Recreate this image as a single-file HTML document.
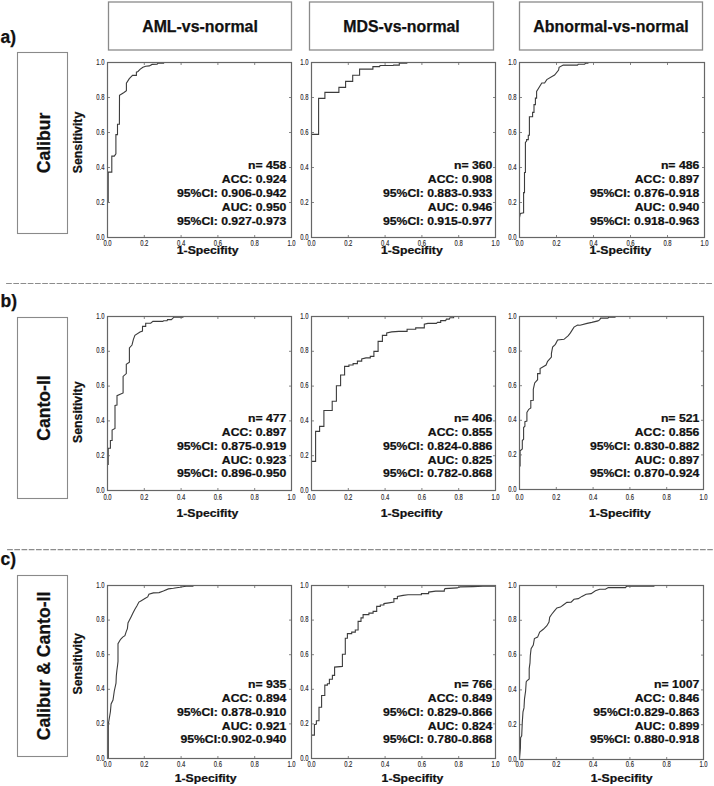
<!DOCTYPE html>
<html><head><meta charset="utf-8"><title>ROC</title><style>
*{margin:0;padding:0}
html,body{width:714px;height:786px;overflow:hidden;background:#fff}
svg{display:block}
text{font-family:"Liberation Sans",sans-serif;fill:#111}
.st,.ax,.hd,.rl,.pl{stroke:#111;stroke-width:0.25px}
.hd{font-size:15.9px;font-weight:bold;text-anchor:middle}
.pl{font-size:17.5px;font-weight:bold}
.rl{font-size:17.6px;font-weight:bold;text-anchor:middle}
.tk{font-size:9px;fill:#1a1a1a;stroke:#333;stroke-width:0.15px}
.st{font-size:11.6px;font-weight:bold;text-anchor:end}
.ax{font-size:12px;font-weight:bold;text-anchor:middle}
</style></head><body>
<svg width="714" height="786" viewBox="0 0 714 786">
<rect width="714" height="786" fill="#fff"/>
<rect x="108.5" y="2" width="183.0" height="48" fill="none" stroke="#8a8a8a" stroke-width="1.3"/>
<text x="200.0" y="31.7" class="hd">AML-vs-normal</text>
<rect x="309.5" y="2" width="184.0" height="48" fill="none" stroke="#8a8a8a" stroke-width="1.3"/>
<text x="401.5" y="31.7" class="hd">MDS-vs-normal</text>
<rect x="519.5" y="2" width="183.0" height="48" fill="none" stroke="#8a8a8a" stroke-width="1.3"/>
<text x="611.0" y="31.7" class="hd">Abnormal-vs-normal</text>
<text x="0.5" y="43.4" class="pl">a)</text>
<text x="0.5" y="306.6" class="pl">b)</text>
<text x="0.5" y="564.8" class="pl">c)</text>
<line x1="6.1" y1="283.5" x2="712.0" y2="283.5" stroke="#8c8c8c" stroke-width="1.1" stroke-dasharray="5.7 1.518"/>
<line x1="7.1" y1="549.6" x2="712.8" y2="549.6" stroke="#8c8c8c" stroke-width="1.1" stroke-dasharray="5.7 1.518"/>
<rect x="17.5" y="52.5" width="50" height="181.0" fill="none" stroke="#8a8a8a" stroke-width="1.1"/>
<text transform="translate(50,143.0) rotate(-90)" x="0" y="0" class="rl">Calibur</text>
<rect x="17.5" y="317.5" width="50" height="181.0" fill="none" stroke="#8a8a8a" stroke-width="1.1"/>
<text transform="translate(50,408.0) rotate(-90)" x="0" y="0" class="rl">Canto-II</text>
<rect x="17.5" y="575.5" width="50" height="181.0" fill="none" stroke="#8a8a8a" stroke-width="1.1"/>
<text transform="translate(50,666.0) rotate(-90)" x="0" y="0" class="rl">Calibur &amp; Canto-II</text>
<path d="M108.2,202.3 L108.2,172.1 L111.8,172.1 L111.8,156.1 L114.3,156.1 L115.9,153.9 L115.9,134.6 L117.5,134.6 L117.5,124.3 L119.4,124.3 L119.5,95.4 L122.0,93.8 L124.0,92.5 L126.4,90.7 L126.4,83.2 L129.3,78.6 L132.5,75.4 L136.4,75.4 L136.4,72.2 L138.0,71.5 L140.0,69.4 L142.9,67.3 L145.7,66.2 L149.3,65.9 L152.1,64.4 L157.1,64.1 L157.9,63.3 L163.6,63.3 L163.6,62.5" fill="none" stroke="#3c3c3c" stroke-width="1.1" stroke-linejoin="miter"/>
<rect x="107.5" y="62.5" width="184.0" height="175.0" fill="none" stroke="#666" stroke-width="1.2"/>
<path d="M144.30,237.5 v-2.5 M144.30,62.5 v2.5 M107.5,202.50 h2.5 M291.5,202.50 h-2.5" stroke="#666" stroke-width="0.8"/>
<path d="M181.10,237.5 v-2.5 M181.10,62.5 v2.5 M107.5,167.50 h2.5 M291.5,167.50 h-2.5" stroke="#666" stroke-width="0.8"/>
<path d="M217.90,237.5 v-2.5 M217.90,62.5 v2.5 M107.5,132.50 h2.5 M291.5,132.50 h-2.5" stroke="#666" stroke-width="0.8"/>
<path d="M254.70,237.5 v-2.5 M254.70,62.5 v2.5 M107.5,97.50 h2.5 M291.5,97.50 h-2.5" stroke="#666" stroke-width="0.8"/>
<text x="107.50" y="245.8" class="tk" text-anchor="middle" textLength="8.2" lengthAdjust="spacingAndGlyphs">0.0</text>
<text x="104.50" y="239.50" class="tk" text-anchor="end" textLength="8.2" lengthAdjust="spacingAndGlyphs">0.0</text>
<text x="144.30" y="245.8" class="tk" text-anchor="middle" textLength="8.2" lengthAdjust="spacingAndGlyphs">0.2</text>
<text x="104.50" y="204.50" class="tk" text-anchor="end" textLength="8.2" lengthAdjust="spacingAndGlyphs">0.2</text>
<text x="181.10" y="245.8" class="tk" text-anchor="middle" textLength="8.2" lengthAdjust="spacingAndGlyphs">0.4</text>
<text x="104.50" y="169.50" class="tk" text-anchor="end" textLength="8.2" lengthAdjust="spacingAndGlyphs">0.4</text>
<text x="217.90" y="245.8" class="tk" text-anchor="middle" textLength="8.2" lengthAdjust="spacingAndGlyphs">0.6</text>
<text x="104.50" y="134.50" class="tk" text-anchor="end" textLength="8.2" lengthAdjust="spacingAndGlyphs">0.6</text>
<text x="254.70" y="245.8" class="tk" text-anchor="middle" textLength="8.2" lengthAdjust="spacingAndGlyphs">0.8</text>
<text x="104.50" y="99.50" class="tk" text-anchor="end" textLength="8.2" lengthAdjust="spacingAndGlyphs">0.8</text>
<text x="291.50" y="245.8" class="tk" text-anchor="middle" textLength="8.2" lengthAdjust="spacingAndGlyphs">1.0</text>
<text x="104.50" y="64.50" class="tk" text-anchor="end" textLength="8.2" lengthAdjust="spacingAndGlyphs">1.0</text>
<text transform="translate(286.40,168.90) scale(1.055,1)" class="st">n= 458</text>
<text transform="translate(286.40,183.00) scale(1.055,1)" class="st">ACC: 0.924</text>
<text transform="translate(286.40,197.10) scale(1.055,1)" class="st">95%CI: 0.906-0.942</text>
<text transform="translate(286.40,211.20) scale(1.055,1)" class="st">AUC: 0.950</text>
<text transform="translate(286.40,225.00) scale(1.055,1)" class="st">95%CI: 0.927-0.973</text>
<text transform="translate(207.70,254.0) scale(1.055,1)" class="ax" style="font-size:11.6px">1-Specifity</text>
<path d="M311.5,134.4 L318.6,134.4 L318.6,98.4 L324.9,98.4 L324.9,92.4 L338.9,92.4 L338.9,87.4 L345.6,87.4 L345.6,81.4 L352.7,81.4 L352.7,75.3 L359.6,75.3 L359.6,69.1 L372.9,69.1 L372.9,66.6 L379.6,66.6 L380.0,65.5 L393.2,65.5 L393.6,65.1 L399.3,65.1 L399.3,63.3 L406.8,63.3 L406.8,62.5" fill="none" stroke="#3c3c3c" stroke-width="1.1" stroke-linejoin="miter"/>
<rect x="311.5" y="62.5" width="184.0" height="175.0" fill="none" stroke="#666" stroke-width="1.2"/>
<path d="M348.30,237.5 v-2.5 M348.30,62.5 v2.5 M311.5,202.50 h2.5 M495.5,202.50 h-2.5" stroke="#666" stroke-width="0.8"/>
<path d="M385.10,237.5 v-2.5 M385.10,62.5 v2.5 M311.5,167.50 h2.5 M495.5,167.50 h-2.5" stroke="#666" stroke-width="0.8"/>
<path d="M421.90,237.5 v-2.5 M421.90,62.5 v2.5 M311.5,132.50 h2.5 M495.5,132.50 h-2.5" stroke="#666" stroke-width="0.8"/>
<path d="M458.70,237.5 v-2.5 M458.70,62.5 v2.5 M311.5,97.50 h2.5 M495.5,97.50 h-2.5" stroke="#666" stroke-width="0.8"/>
<text x="311.50" y="245.8" class="tk" text-anchor="middle" textLength="8.2" lengthAdjust="spacingAndGlyphs">0.0</text>
<text x="308.50" y="239.50" class="tk" text-anchor="end" textLength="8.2" lengthAdjust="spacingAndGlyphs">0.0</text>
<text x="348.30" y="245.8" class="tk" text-anchor="middle" textLength="8.2" lengthAdjust="spacingAndGlyphs">0.2</text>
<text x="308.50" y="204.50" class="tk" text-anchor="end" textLength="8.2" lengthAdjust="spacingAndGlyphs">0.2</text>
<text x="385.10" y="245.8" class="tk" text-anchor="middle" textLength="8.2" lengthAdjust="spacingAndGlyphs">0.4</text>
<text x="308.50" y="169.50" class="tk" text-anchor="end" textLength="8.2" lengthAdjust="spacingAndGlyphs">0.4</text>
<text x="421.90" y="245.8" class="tk" text-anchor="middle" textLength="8.2" lengthAdjust="spacingAndGlyphs">0.6</text>
<text x="308.50" y="134.50" class="tk" text-anchor="end" textLength="8.2" lengthAdjust="spacingAndGlyphs">0.6</text>
<text x="458.70" y="245.8" class="tk" text-anchor="middle" textLength="8.2" lengthAdjust="spacingAndGlyphs">0.8</text>
<text x="308.50" y="99.50" class="tk" text-anchor="end" textLength="8.2" lengthAdjust="spacingAndGlyphs">0.8</text>
<text x="495.50" y="245.8" class="tk" text-anchor="middle" textLength="8.2" lengthAdjust="spacingAndGlyphs">1.0</text>
<text x="308.50" y="64.50" class="tk" text-anchor="end" textLength="8.2" lengthAdjust="spacingAndGlyphs">1.0</text>
<text transform="translate(492.40,168.90) scale(1.055,1)" class="st">n= 360</text>
<text transform="translate(492.40,183.00) scale(1.055,1)" class="st">ACC: 0.908</text>
<text transform="translate(492.40,197.10) scale(1.055,1)" class="st">95%CI: 0.883-0.933</text>
<text transform="translate(492.40,211.20) scale(1.055,1)" class="st">AUC: 0.946</text>
<text transform="translate(492.40,225.00) scale(1.055,1)" class="st">95%CI: 0.915-0.977</text>
<text transform="translate(411.80,254.0) scale(1.055,1)" class="ax" style="font-size:11.6px">1-Specifity</text>
<path d="M519.5,217.3 L520.4,213.4 L523.6,212.7 L523.6,192.6 L524.5,192.6 L524.5,172.5 L525.4,172.5 L525.4,142.4 L526.6,141.0 L526.6,139.6 L528.3,139.6 L528.3,135.3 L529.4,135.3 L529.4,116.7 L532.6,116.7 L532.6,112.4 L534.0,112.4 L534.0,104.6 L535.4,104.6 L535.4,98.1 L536.6,98.1 L536.6,91.4 L541.8,83.0 L544.6,83.0 L546.8,79.6 L552.4,76.2 L554.6,75.1 L558.6,70.1 L559.1,67.3 L563.2,65.1 L577.5,65.1 L578.2,64.3 L584.6,64.3 L585.4,63.3 L587.9,63.3 L587.9,62.5" fill="none" stroke="#3c3c3c" stroke-width="1.1" stroke-linejoin="miter"/>
<rect x="519.5" y="62.5" width="185.0" height="175.0" fill="none" stroke="#666" stroke-width="1.2"/>
<path d="M556.50,237.5 v-2.5 M556.50,62.5 v2.5 M519.5,202.50 h2.5 M704.5,202.50 h-2.5" stroke="#666" stroke-width="0.8"/>
<path d="M593.50,237.5 v-2.5 M593.50,62.5 v2.5 M519.5,167.50 h2.5 M704.5,167.50 h-2.5" stroke="#666" stroke-width="0.8"/>
<path d="M630.50,237.5 v-2.5 M630.50,62.5 v2.5 M519.5,132.50 h2.5 M704.5,132.50 h-2.5" stroke="#666" stroke-width="0.8"/>
<path d="M667.50,237.5 v-2.5 M667.50,62.5 v2.5 M519.5,97.50 h2.5 M704.5,97.50 h-2.5" stroke="#666" stroke-width="0.8"/>
<text x="519.50" y="245.8" class="tk" text-anchor="middle" textLength="8.2" lengthAdjust="spacingAndGlyphs">0.0</text>
<text x="516.50" y="239.50" class="tk" text-anchor="end" textLength="8.2" lengthAdjust="spacingAndGlyphs">0.0</text>
<text x="556.50" y="245.8" class="tk" text-anchor="middle" textLength="8.2" lengthAdjust="spacingAndGlyphs">0.2</text>
<text x="516.50" y="204.50" class="tk" text-anchor="end" textLength="8.2" lengthAdjust="spacingAndGlyphs">0.2</text>
<text x="593.50" y="245.8" class="tk" text-anchor="middle" textLength="8.2" lengthAdjust="spacingAndGlyphs">0.4</text>
<text x="516.50" y="169.50" class="tk" text-anchor="end" textLength="8.2" lengthAdjust="spacingAndGlyphs">0.4</text>
<text x="630.50" y="245.8" class="tk" text-anchor="middle" textLength="8.2" lengthAdjust="spacingAndGlyphs">0.6</text>
<text x="516.50" y="134.50" class="tk" text-anchor="end" textLength="8.2" lengthAdjust="spacingAndGlyphs">0.6</text>
<text x="667.50" y="245.8" class="tk" text-anchor="middle" textLength="8.2" lengthAdjust="spacingAndGlyphs">0.8</text>
<text x="516.50" y="99.50" class="tk" text-anchor="end" textLength="8.2" lengthAdjust="spacingAndGlyphs">0.8</text>
<text x="704.50" y="245.8" class="tk" text-anchor="middle" textLength="8.2" lengthAdjust="spacingAndGlyphs">1.0</text>
<text x="516.50" y="64.50" class="tk" text-anchor="end" textLength="8.2" lengthAdjust="spacingAndGlyphs">1.0</text>
<text transform="translate(699.30,168.90) scale(1.055,1)" class="st">n= 486</text>
<text transform="translate(699.30,183.00) scale(1.055,1)" class="st">ACC: 0.897</text>
<text transform="translate(699.30,197.10) scale(1.055,1)" class="st">95%CI: 0.876-0.918</text>
<text transform="translate(699.30,211.20) scale(1.055,1)" class="st">AUC: 0.940</text>
<text transform="translate(699.30,225.00) scale(1.055,1)" class="st">95%CI: 0.918-0.963</text>
<text transform="translate(620.40,254.0) scale(1.055,1)" class="ax" style="font-size:11.6px">1-Specifity</text>
<text transform="translate(82.4,142.5) rotate(-90)" class="ax" style="font-size:12.3px">Sensitivity</text>
<path d="M108.2,465.1 L108.2,448.2 L110.4,448.2 L110.4,440.5 L112.1,440.5 L112.1,430.1 L115.0,428.5 L115.0,405.4 L117.0,405.0 L117.0,395.7 L123.1,392.9 L123.1,376.4 L126.3,373.6 L126.3,364.3 L129.4,362.1 L129.4,347.9 L132.0,345.0 L133.4,339.3 L134.9,335.4 L140.0,332.1 L142.5,331.1 L142.5,326.4 L145.7,326.4 L145.7,323.2 L150.7,323.2 L152.9,321.4 L162.9,321.4 L163.6,320.7 L167.1,320.7 L167.5,319.6 L171.4,319.6 L173.2,317.9 L174.0,317.3 L182.9,317.3 L182.9,316.5" fill="none" stroke="#3c3c3c" stroke-width="1.1" stroke-linejoin="miter"/>
<rect x="107.5" y="316.5" width="184.0" height="174.0" fill="none" stroke="#666" stroke-width="1.2"/>
<path d="M144.30,490.5 v-2.5 M144.30,316.5 v2.5 M107.5,455.70 h2.5 M291.5,455.70 h-2.5" stroke="#666" stroke-width="0.8"/>
<path d="M181.10,490.5 v-2.5 M181.10,316.5 v2.5 M107.5,420.90 h2.5 M291.5,420.90 h-2.5" stroke="#666" stroke-width="0.8"/>
<path d="M217.90,490.5 v-2.5 M217.90,316.5 v2.5 M107.5,386.10 h2.5 M291.5,386.10 h-2.5" stroke="#666" stroke-width="0.8"/>
<path d="M254.70,490.5 v-2.5 M254.70,316.5 v2.5 M107.5,351.30 h2.5 M291.5,351.30 h-2.5" stroke="#666" stroke-width="0.8"/>
<text x="107.50" y="499.9" class="tk" text-anchor="middle" textLength="8.2" lengthAdjust="spacingAndGlyphs">0.0</text>
<text x="104.50" y="492.50" class="tk" text-anchor="end" textLength="8.2" lengthAdjust="spacingAndGlyphs">0.0</text>
<text x="144.30" y="499.9" class="tk" text-anchor="middle" textLength="8.2" lengthAdjust="spacingAndGlyphs">0.2</text>
<text x="104.50" y="457.70" class="tk" text-anchor="end" textLength="8.2" lengthAdjust="spacingAndGlyphs">0.2</text>
<text x="181.10" y="499.9" class="tk" text-anchor="middle" textLength="8.2" lengthAdjust="spacingAndGlyphs">0.4</text>
<text x="104.50" y="422.90" class="tk" text-anchor="end" textLength="8.2" lengthAdjust="spacingAndGlyphs">0.4</text>
<text x="217.90" y="499.9" class="tk" text-anchor="middle" textLength="8.2" lengthAdjust="spacingAndGlyphs">0.6</text>
<text x="104.50" y="388.10" class="tk" text-anchor="end" textLength="8.2" lengthAdjust="spacingAndGlyphs">0.6</text>
<text x="254.70" y="499.9" class="tk" text-anchor="middle" textLength="8.2" lengthAdjust="spacingAndGlyphs">0.8</text>
<text x="104.50" y="353.30" class="tk" text-anchor="end" textLength="8.2" lengthAdjust="spacingAndGlyphs">0.8</text>
<text x="291.50" y="499.9" class="tk" text-anchor="middle" textLength="8.2" lengthAdjust="spacingAndGlyphs">1.0</text>
<text x="104.50" y="318.50" class="tk" text-anchor="end" textLength="8.2" lengthAdjust="spacingAndGlyphs">1.0</text>
<text transform="translate(286.40,421.80) scale(1.055,1)" class="st">n= 477</text>
<text transform="translate(286.40,436.00) scale(1.055,1)" class="st">ACC: 0.897</text>
<text transform="translate(286.40,450.00) scale(1.055,1)" class="st">95%CI: 0.875-0.919</text>
<text transform="translate(286.40,463.70) scale(1.055,1)" class="st">AUC: 0.923</text>
<text transform="translate(286.40,477.40) scale(1.055,1)" class="st">95%CI: 0.896-0.950</text>
<text transform="translate(207.40,517.0) scale(1.055,1)" class="ax" style="font-size:11.6px">1-Specifity</text>
<path d="M311.5,461.4 L315.6,461.4 L315.6,431.4 L319.6,431.4 L319.6,426.4 L323.9,426.4 L323.9,410.5 L332.2,410.5 L332.2,401.2 L336.4,401.2 L336.4,385.7 L340.6,385.7 L340.6,375.0 L344.6,375.0 L344.6,366.4 L348.9,366.4 L348.9,365.0 L353.1,365.0 L353.1,363.6 L357.4,363.6 L357.4,361.1 L361.7,361.1 L361.7,358.9 L366.0,357.9 L370.3,357.9 L370.3,356.4 L373.9,356.4 L373.9,351.4 L378.1,351.4 L378.1,341.4 L382.4,341.4 L382.4,335.4 L386.7,335.4 L386.7,332.9 L391.7,331.9 L398.9,331.4 L407.1,331.4 L407.1,329.3 L415.7,329.3 L415.7,327.9 L424.3,327.9 L424.3,324.3 L427.9,323.4 L436.4,323.4 L437.5,322.4 L440.7,322.4 L440.7,320.6 L445.7,320.6 L446.4,319.1 L449.3,319.1 L450.0,317.7 L453.6,317.7 L453.6,316.5" fill="none" stroke="#3c3c3c" stroke-width="1.1" stroke-linejoin="miter"/>
<rect x="311.5" y="316.5" width="184.0" height="174.0" fill="none" stroke="#666" stroke-width="1.2"/>
<path d="M348.30,490.5 v-2.5 M348.30,316.5 v2.5 M311.5,455.70 h2.5 M495.5,455.70 h-2.5" stroke="#666" stroke-width="0.8"/>
<path d="M385.10,490.5 v-2.5 M385.10,316.5 v2.5 M311.5,420.90 h2.5 M495.5,420.90 h-2.5" stroke="#666" stroke-width="0.8"/>
<path d="M421.90,490.5 v-2.5 M421.90,316.5 v2.5 M311.5,386.10 h2.5 M495.5,386.10 h-2.5" stroke="#666" stroke-width="0.8"/>
<path d="M458.70,490.5 v-2.5 M458.70,316.5 v2.5 M311.5,351.30 h2.5 M495.5,351.30 h-2.5" stroke="#666" stroke-width="0.8"/>
<text x="311.50" y="499.9" class="tk" text-anchor="middle" textLength="8.2" lengthAdjust="spacingAndGlyphs">0.0</text>
<text x="308.50" y="492.50" class="tk" text-anchor="end" textLength="8.2" lengthAdjust="spacingAndGlyphs">0.0</text>
<text x="348.30" y="499.9" class="tk" text-anchor="middle" textLength="8.2" lengthAdjust="spacingAndGlyphs">0.2</text>
<text x="308.50" y="457.70" class="tk" text-anchor="end" textLength="8.2" lengthAdjust="spacingAndGlyphs">0.2</text>
<text x="385.10" y="499.9" class="tk" text-anchor="middle" textLength="8.2" lengthAdjust="spacingAndGlyphs">0.4</text>
<text x="308.50" y="422.90" class="tk" text-anchor="end" textLength="8.2" lengthAdjust="spacingAndGlyphs">0.4</text>
<text x="421.90" y="499.9" class="tk" text-anchor="middle" textLength="8.2" lengthAdjust="spacingAndGlyphs">0.6</text>
<text x="308.50" y="388.10" class="tk" text-anchor="end" textLength="8.2" lengthAdjust="spacingAndGlyphs">0.6</text>
<text x="458.70" y="499.9" class="tk" text-anchor="middle" textLength="8.2" lengthAdjust="spacingAndGlyphs">0.8</text>
<text x="308.50" y="353.30" class="tk" text-anchor="end" textLength="8.2" lengthAdjust="spacingAndGlyphs">0.8</text>
<text x="495.50" y="499.9" class="tk" text-anchor="middle" textLength="8.2" lengthAdjust="spacingAndGlyphs">1.0</text>
<text x="308.50" y="318.50" class="tk" text-anchor="end" textLength="8.2" lengthAdjust="spacingAndGlyphs">1.0</text>
<text transform="translate(492.40,421.80) scale(1.055,1)" class="st">n= 406</text>
<text transform="translate(492.40,436.00) scale(1.055,1)" class="st">ACC: 0.855</text>
<text transform="translate(492.40,450.00) scale(1.055,1)" class="st">95%CI: 0.824-0.886</text>
<text transform="translate(492.40,463.70) scale(1.055,1)" class="st">AUC: 0.825</text>
<text transform="translate(492.40,477.40) scale(1.055,1)" class="st">95%CI: 0.782-0.868</text>
<text transform="translate(411.60,517.0) scale(1.055,1)" class="ax" style="font-size:11.6px">1-Specifity</text>
<path d="M520.1,466.4 L520.1,450.8 L522.3,448.9 L522.3,440.5 L523.6,439.2 L523.6,427.5 L524.9,426.2 L524.9,421.6 L526.9,421.0 L526.9,412.5 L528.8,409.3 L530.8,408.0 L530.8,400.4 L533.3,400.2 L533.3,389.3 L534.7,382.9 L537.6,379.7 L537.6,373.6 L540.1,373.6 L540.1,368.6 L546.1,365.0 L547.6,361.4 L551.4,357.1 L551.4,353.6 L552.6,347.1 L555.4,344.3 L557.6,340.0 L564.0,339.3 L568.3,335.7 L570.4,332.9 L574.0,327.1 L577.6,325.0 L580.0,325.2 L587.1,323.4 L591.8,322.4 L597.9,320.9 L599.6,319.9 L600.7,318.1 L607.9,318.1 L608.6,317.3 L615.0,317.3 L615.0,316.5" fill="none" stroke="#3c3c3c" stroke-width="1.1" stroke-linejoin="miter"/>
<rect x="519.5" y="316.5" width="184.0" height="173.0" fill="none" stroke="#666" stroke-width="1.2"/>
<path d="M556.30,489.5 v-2.5 M556.30,316.5 v2.5 M519.5,454.90 h2.5 M703.5,454.90 h-2.5" stroke="#666" stroke-width="0.8"/>
<path d="M593.10,489.5 v-2.5 M593.10,316.5 v2.5 M519.5,420.30 h2.5 M703.5,420.30 h-2.5" stroke="#666" stroke-width="0.8"/>
<path d="M629.90,489.5 v-2.5 M629.90,316.5 v2.5 M519.5,385.70 h2.5 M703.5,385.70 h-2.5" stroke="#666" stroke-width="0.8"/>
<path d="M666.70,489.5 v-2.5 M666.70,316.5 v2.5 M519.5,351.10 h2.5 M703.5,351.10 h-2.5" stroke="#666" stroke-width="0.8"/>
<text x="519.50" y="499.9" class="tk" text-anchor="middle" textLength="8.2" lengthAdjust="spacingAndGlyphs">0.0</text>
<text x="516.50" y="491.50" class="tk" text-anchor="end" textLength="8.2" lengthAdjust="spacingAndGlyphs">0.0</text>
<text x="556.30" y="499.9" class="tk" text-anchor="middle" textLength="8.2" lengthAdjust="spacingAndGlyphs">0.2</text>
<text x="516.50" y="456.90" class="tk" text-anchor="end" textLength="8.2" lengthAdjust="spacingAndGlyphs">0.2</text>
<text x="593.10" y="499.9" class="tk" text-anchor="middle" textLength="8.2" lengthAdjust="spacingAndGlyphs">0.4</text>
<text x="516.50" y="422.30" class="tk" text-anchor="end" textLength="8.2" lengthAdjust="spacingAndGlyphs">0.4</text>
<text x="629.90" y="499.9" class="tk" text-anchor="middle" textLength="8.2" lengthAdjust="spacingAndGlyphs">0.6</text>
<text x="516.50" y="387.70" class="tk" text-anchor="end" textLength="8.2" lengthAdjust="spacingAndGlyphs">0.6</text>
<text x="666.70" y="499.9" class="tk" text-anchor="middle" textLength="8.2" lengthAdjust="spacingAndGlyphs">0.8</text>
<text x="516.50" y="353.10" class="tk" text-anchor="end" textLength="8.2" lengthAdjust="spacingAndGlyphs">0.8</text>
<text x="703.50" y="499.9" class="tk" text-anchor="middle" textLength="8.2" lengthAdjust="spacingAndGlyphs">1.0</text>
<text x="516.50" y="318.50" class="tk" text-anchor="end" textLength="8.2" lengthAdjust="spacingAndGlyphs">1.0</text>
<text transform="translate(699.30,421.80) scale(1.055,1)" class="st">n= 521</text>
<text transform="translate(699.30,436.00) scale(1.055,1)" class="st">ACC: 0.856</text>
<text transform="translate(699.30,450.00) scale(1.055,1)" class="st">95%CI: 0.830-0.882</text>
<text transform="translate(699.30,463.70) scale(1.055,1)" class="st">AUC: 0.897</text>
<text transform="translate(699.30,477.40) scale(1.055,1)" class="st">95%CI: 0.870-0.924</text>
<text transform="translate(619.80,517.0) scale(1.055,1)" class="ax" style="font-size:11.6px">1-Specifity</text>
<text transform="translate(82.4,412.2) rotate(-90)" class="ax" style="font-size:12.3px">Sensitivity</text>
<path d="M108.3,758.5 L108.3,724.1 L109.1,719.5 L110.4,711.8 L111.1,704.0 L113.0,700.1 L114.3,691.0 L116.0,683.2 L116.3,676.0 L116.9,670.2 L117.6,665.0 L118.0,661.4 L118.0,643.6 L120.6,639.3 L122.7,637.1 L124.9,635.7 L126.3,631.4 L127.4,628.6 L128.0,622.9 L129.1,620.7 L131.3,616.4 L132.7,613.6 L134.9,609.3 L137.0,605.7 L138.9,602.1 L141.3,600.7 L144.9,598.6 L147.7,596.9 L148.9,594.3 L153.4,592.9 L159.1,592.6 L163.4,591.1 L168.4,588.9 L173.4,588.3 L179.9,587.3 L184.3,586.5 L186.4,586.3 L192.9,586.3 L192.9,585.5" fill="none" stroke="#3c3c3c" stroke-width="1.1" stroke-linejoin="miter"/>
<rect x="107.5" y="585.5" width="184.0" height="173.0" fill="none" stroke="#666" stroke-width="1.2"/>
<path d="M144.30,758.5 v-2.5 M144.30,585.5 v2.5 M107.5,723.90 h2.5 M291.5,723.90 h-2.5" stroke="#666" stroke-width="0.8"/>
<path d="M181.10,758.5 v-2.5 M181.10,585.5 v2.5 M107.5,689.30 h2.5 M291.5,689.30 h-2.5" stroke="#666" stroke-width="0.8"/>
<path d="M217.90,758.5 v-2.5 M217.90,585.5 v2.5 M107.5,654.70 h2.5 M291.5,654.70 h-2.5" stroke="#666" stroke-width="0.8"/>
<path d="M254.70,758.5 v-2.5 M254.70,585.5 v2.5 M107.5,620.10 h2.5 M291.5,620.10 h-2.5" stroke="#666" stroke-width="0.8"/>
<text x="107.50" y="767.4" class="tk" text-anchor="middle" textLength="8.2" lengthAdjust="spacingAndGlyphs">0.0</text>
<text x="104.50" y="760.50" class="tk" text-anchor="end" textLength="8.2" lengthAdjust="spacingAndGlyphs">0.0</text>
<text x="144.30" y="767.4" class="tk" text-anchor="middle" textLength="8.2" lengthAdjust="spacingAndGlyphs">0.2</text>
<text x="104.50" y="725.90" class="tk" text-anchor="end" textLength="8.2" lengthAdjust="spacingAndGlyphs">0.2</text>
<text x="181.10" y="767.4" class="tk" text-anchor="middle" textLength="8.2" lengthAdjust="spacingAndGlyphs">0.4</text>
<text x="104.50" y="691.30" class="tk" text-anchor="end" textLength="8.2" lengthAdjust="spacingAndGlyphs">0.4</text>
<text x="217.90" y="767.4" class="tk" text-anchor="middle" textLength="8.2" lengthAdjust="spacingAndGlyphs">0.6</text>
<text x="104.50" y="656.70" class="tk" text-anchor="end" textLength="8.2" lengthAdjust="spacingAndGlyphs">0.6</text>
<text x="254.70" y="767.4" class="tk" text-anchor="middle" textLength="8.2" lengthAdjust="spacingAndGlyphs">0.8</text>
<text x="104.50" y="622.10" class="tk" text-anchor="end" textLength="8.2" lengthAdjust="spacingAndGlyphs">0.8</text>
<text x="291.50" y="767.4" class="tk" text-anchor="middle" textLength="8.2" lengthAdjust="spacingAndGlyphs">1.0</text>
<text x="104.50" y="587.50" class="tk" text-anchor="end" textLength="8.2" lengthAdjust="spacingAndGlyphs">1.0</text>
<text transform="translate(286.40,687.60) scale(1.055,1)" class="st">n= 935</text>
<text transform="translate(286.40,701.80) scale(1.055,1)" class="st">ACC: 0.894</text>
<text transform="translate(286.40,715.80) scale(1.055,1)" class="st">95%CI: 0.878-0.910</text>
<text transform="translate(286.40,729.50) scale(1.055,1)" class="st">AUC: 0.921</text>
<text transform="translate(286.40,743.30) scale(1.055,1)" class="st">95%CI:0.902-0.940</text>
<text transform="translate(205.60,782.0) scale(1.055,1)" class="ax" style="font-size:11.6px">1-Specifity</text>
<path d="M311.5,735.1 L314.4,735.1 L314.4,724.7 L316.4,724.1 L316.4,720.8 L319.0,720.8 L319.0,707.2 L321.6,707.2 L321.6,695.5 L324.8,695.5 L324.8,685.1 L327.4,685.1 L327.4,683.8 L329.4,683.8 L329.4,679.3 L332.4,679.3 L332.4,675.4 L334.6,675.4 L334.6,667.1 L342.4,666.4 L342.4,654.3 L345.3,654.3 L345.3,638.3 L347.4,638.3 L347.4,633.6 L351.7,633.6 L351.7,632.1 L355.3,632.1 L355.3,630.0 L358.1,630.0 L358.1,627.1 L358.1,621.4 L361.0,621.4 L361.0,617.9 L363.1,617.9 L363.1,614.6 L368.9,614.6 L368.9,613.1 L373.1,613.1 L373.1,611.4 L376.7,611.4 L376.7,606.4 L380.3,606.4 L380.3,605.0 L383.9,605.0 L383.9,603.6 L388.9,602.9 L393.9,602.1 L393.9,598.6 L397.4,598.6 L397.4,596.4 L403.1,595.4 L408.0,594.7 L414.3,594.7 L421.4,594.7 L421.4,593.6 L428.6,593.6 L428.6,592.1 L435.7,591.1 L444.3,591.1 L444.3,590.0 L445.0,588.6 L457.1,587.9 L460.0,586.9 L472.9,586.6 L482.9,586.3 L495.5,586.3" fill="none" stroke="#3c3c3c" stroke-width="1.1" stroke-linejoin="miter"/>
<rect x="311.5" y="585.5" width="184.0" height="173.0" fill="none" stroke="#666" stroke-width="1.2"/>
<path d="M348.30,758.5 v-2.5 M348.30,585.5 v2.5 M311.5,723.90 h2.5 M495.5,723.90 h-2.5" stroke="#666" stroke-width="0.8"/>
<path d="M385.10,758.5 v-2.5 M385.10,585.5 v2.5 M311.5,689.30 h2.5 M495.5,689.30 h-2.5" stroke="#666" stroke-width="0.8"/>
<path d="M421.90,758.5 v-2.5 M421.90,585.5 v2.5 M311.5,654.70 h2.5 M495.5,654.70 h-2.5" stroke="#666" stroke-width="0.8"/>
<path d="M458.70,758.5 v-2.5 M458.70,585.5 v2.5 M311.5,620.10 h2.5 M495.5,620.10 h-2.5" stroke="#666" stroke-width="0.8"/>
<text x="311.50" y="767.4" class="tk" text-anchor="middle" textLength="8.2" lengthAdjust="spacingAndGlyphs">0.0</text>
<text x="308.50" y="760.50" class="tk" text-anchor="end" textLength="8.2" lengthAdjust="spacingAndGlyphs">0.0</text>
<text x="348.30" y="767.4" class="tk" text-anchor="middle" textLength="8.2" lengthAdjust="spacingAndGlyphs">0.2</text>
<text x="308.50" y="725.90" class="tk" text-anchor="end" textLength="8.2" lengthAdjust="spacingAndGlyphs">0.2</text>
<text x="385.10" y="767.4" class="tk" text-anchor="middle" textLength="8.2" lengthAdjust="spacingAndGlyphs">0.4</text>
<text x="308.50" y="691.30" class="tk" text-anchor="end" textLength="8.2" lengthAdjust="spacingAndGlyphs">0.4</text>
<text x="421.90" y="767.4" class="tk" text-anchor="middle" textLength="8.2" lengthAdjust="spacingAndGlyphs">0.6</text>
<text x="308.50" y="656.70" class="tk" text-anchor="end" textLength="8.2" lengthAdjust="spacingAndGlyphs">0.6</text>
<text x="458.70" y="767.4" class="tk" text-anchor="middle" textLength="8.2" lengthAdjust="spacingAndGlyphs">0.8</text>
<text x="308.50" y="622.10" class="tk" text-anchor="end" textLength="8.2" lengthAdjust="spacingAndGlyphs">0.8</text>
<text x="495.50" y="767.4" class="tk" text-anchor="middle" textLength="8.2" lengthAdjust="spacingAndGlyphs">1.0</text>
<text x="308.50" y="587.50" class="tk" text-anchor="end" textLength="8.2" lengthAdjust="spacingAndGlyphs">1.0</text>
<text transform="translate(492.40,687.60) scale(1.055,1)" class="st">n= 766</text>
<text transform="translate(492.40,701.80) scale(1.055,1)" class="st">ACC: 0.849</text>
<text transform="translate(492.40,715.80) scale(1.055,1)" class="st">95%CI: 0.829-0.866</text>
<text transform="translate(492.40,729.50) scale(1.055,1)" class="st">AUC: 0.824</text>
<text transform="translate(492.40,743.30) scale(1.055,1)" class="st">95%CI: 0.780-0.868</text>
<text transform="translate(412.50,782.0) scale(1.055,1)" class="ax" style="font-size:11.6px">1-Specifity</text>
<path d="M519.5,758.5 L519.7,755.9 L520.4,748.1 L520.6,737.7 L521.7,735.8 L522.3,722.1 L523.0,711.8 L524.0,707.9 L524.5,698.8 L525.6,691.0 L526.2,681.9 L526.9,680.8 L529.2,679.0 L529.2,668.6 L530.0,662.9 L530.3,655.7 L531.1,648.6 L533.3,645.0 L534.4,638.6 L537.6,637.1 L539.7,632.1 L543.3,629.3 L546.9,625.7 L549.0,622.1 L549.7,617.1 L551.9,614.0 L554.0,611.4 L556.9,607.9 L560.4,607.1 L563.3,605.0 L566.9,602.4 L571.1,602.1 L574.0,599.3 L578.3,598.6 L581.9,596.4 L586.1,594.3 L591.1,593.6 L595.4,590.7 L599.7,589.3 L605.4,589.3 L608.3,587.6 L625.5,587.6 L626.5,586.3 L653.9,586.3 L653.9,585.5" fill="none" stroke="#3c3c3c" stroke-width="1.1" stroke-linejoin="miter"/>
<rect x="519.5" y="585.5" width="184.0" height="174.0" fill="none" stroke="#666" stroke-width="1.2"/>
<path d="M556.30,759.5 v-2.5 M556.30,585.5 v2.5 M519.5,724.70 h2.5 M703.5,724.70 h-2.5" stroke="#666" stroke-width="0.8"/>
<path d="M593.10,759.5 v-2.5 M593.10,585.5 v2.5 M519.5,689.90 h2.5 M703.5,689.90 h-2.5" stroke="#666" stroke-width="0.8"/>
<path d="M629.90,759.5 v-2.5 M629.90,585.5 v2.5 M519.5,655.10 h2.5 M703.5,655.10 h-2.5" stroke="#666" stroke-width="0.8"/>
<path d="M666.70,759.5 v-2.5 M666.70,585.5 v2.5 M519.5,620.30 h2.5 M703.5,620.30 h-2.5" stroke="#666" stroke-width="0.8"/>
<text x="519.50" y="767.4" class="tk" text-anchor="middle" textLength="8.2" lengthAdjust="spacingAndGlyphs">0.0</text>
<text x="516.50" y="761.50" class="tk" text-anchor="end" textLength="8.2" lengthAdjust="spacingAndGlyphs">0.0</text>
<text x="556.30" y="767.4" class="tk" text-anchor="middle" textLength="8.2" lengthAdjust="spacingAndGlyphs">0.2</text>
<text x="516.50" y="726.70" class="tk" text-anchor="end" textLength="8.2" lengthAdjust="spacingAndGlyphs">0.2</text>
<text x="593.10" y="767.4" class="tk" text-anchor="middle" textLength="8.2" lengthAdjust="spacingAndGlyphs">0.4</text>
<text x="516.50" y="691.90" class="tk" text-anchor="end" textLength="8.2" lengthAdjust="spacingAndGlyphs">0.4</text>
<text x="629.90" y="767.4" class="tk" text-anchor="middle" textLength="8.2" lengthAdjust="spacingAndGlyphs">0.6</text>
<text x="516.50" y="657.10" class="tk" text-anchor="end" textLength="8.2" lengthAdjust="spacingAndGlyphs">0.6</text>
<text x="666.70" y="767.4" class="tk" text-anchor="middle" textLength="8.2" lengthAdjust="spacingAndGlyphs">0.8</text>
<text x="516.50" y="622.30" class="tk" text-anchor="end" textLength="8.2" lengthAdjust="spacingAndGlyphs">0.8</text>
<text x="703.50" y="767.4" class="tk" text-anchor="middle" textLength="8.2" lengthAdjust="spacingAndGlyphs">1.0</text>
<text x="516.50" y="587.50" class="tk" text-anchor="end" textLength="8.2" lengthAdjust="spacingAndGlyphs">1.0</text>
<text transform="translate(699.30,687.60) scale(1.055,1)" class="st">n= 1007</text>
<text transform="translate(699.30,701.80) scale(1.055,1)" class="st">ACC: 0.846</text>
<text transform="translate(699.30,715.80) scale(1.055,1)" class="st">95%CI:0.829-0.863</text>
<text transform="translate(699.30,729.50) scale(1.055,1)" class="st">AUC: 0.899</text>
<text transform="translate(699.30,743.30) scale(1.055,1)" class="st">95%CI: 0.880-0.918</text>
<text transform="translate(621.60,782.0) scale(1.055,1)" class="ax" style="font-size:11.6px">1-Specifity</text>
<text transform="translate(82.4,663.8) rotate(-90)" class="ax" style="font-size:12.3px">Sensitivity</text>
</svg>
</body></html>
